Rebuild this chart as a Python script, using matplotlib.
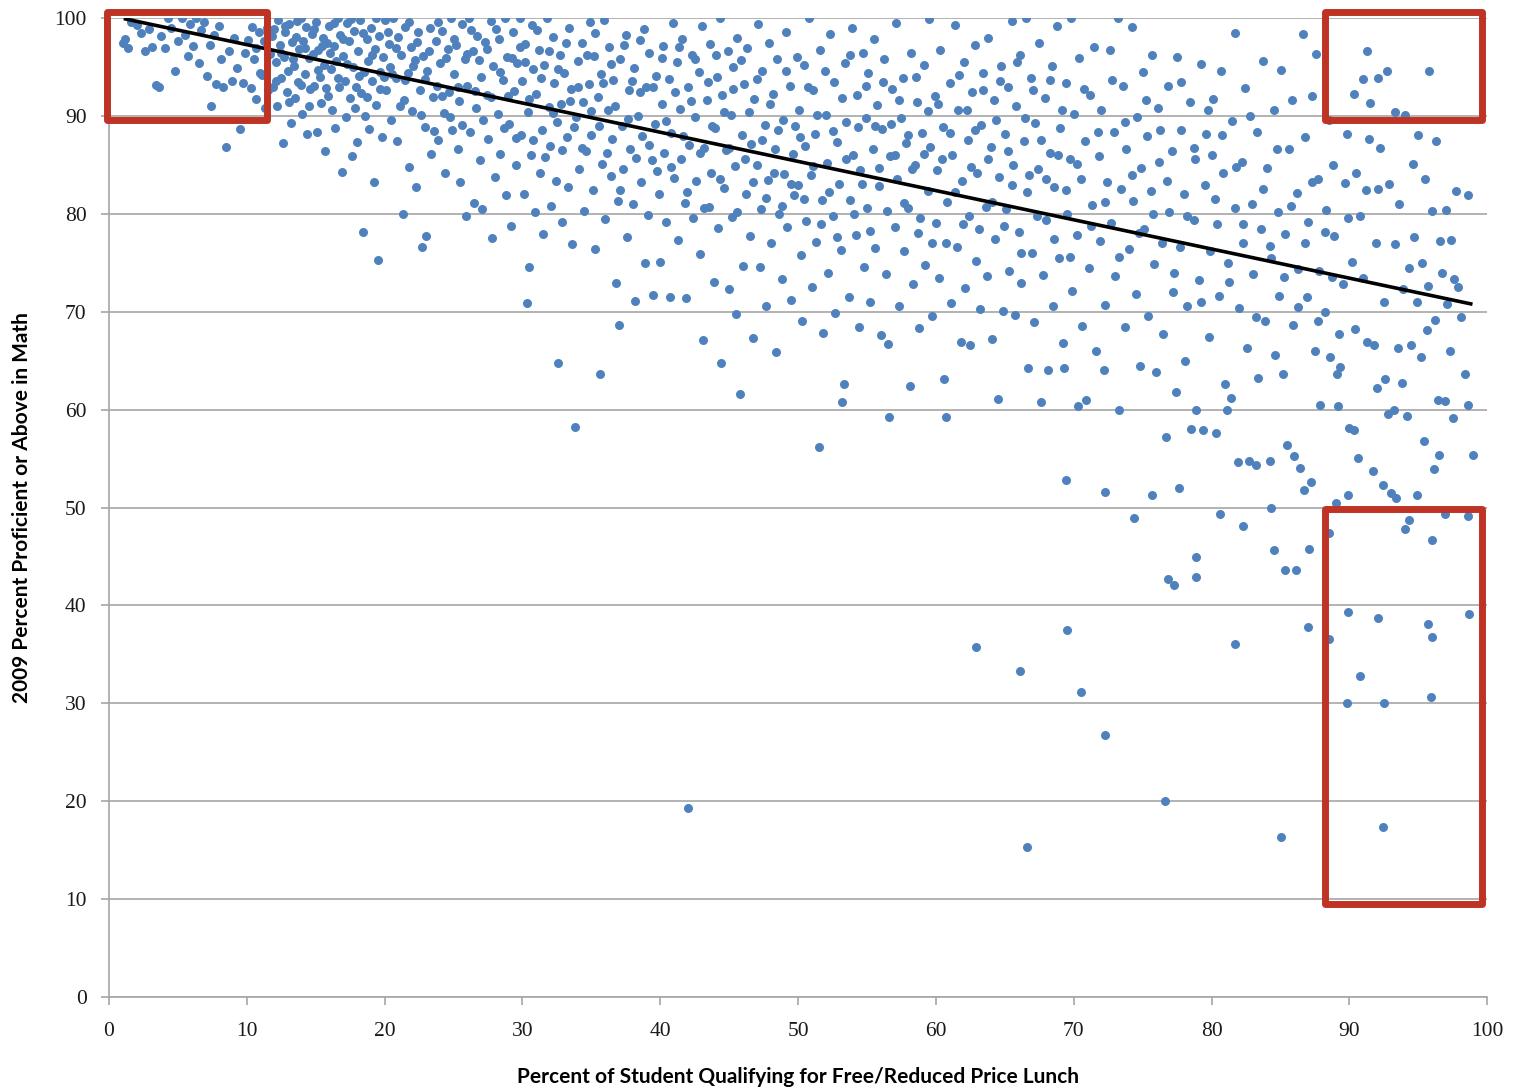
import numpy as np
import matplotlib
matplotlib.use("Agg")
import matplotlib.pyplot as plt
from matplotlib.patches import Rectangle

# ---------------- DATA ----------------
# (percent free/reduced lunch, percent proficient in math)
low_poverty = [
    (1.0, 97.4), (1.2, 97.9), (1.4, 96.9), (1.6, 99.6), (2.0, 99.3), (2.3, 98.5), (2.6, 96.6), (2.9, 98.9),
    (3.1, 97.0), (3.4, 93.2), (3.6, 92.9), (3.8, 98.2), (4.1, 96.9), (4.3, 100.0), (4.5, 99.0), (4.8, 94.6),
    (5.0, 97.7), (5.3, 100.0), (5.5, 98.3), (5.7, 96.1), (5.9, 99.4),
    (6.1, 97.1), (6.3, 100.0), (6.5, 95.4), (6.7, 98.8), (6.9, 99.6), (7.1, 94.1), (7.3, 97.2), (7.4, 91.0),
    (7.6, 98.3), (7.8, 93.3), (8.0, 99.2), (8.1, 95.8), (8.3, 93.0), (8.5, 86.8), (8.7, 96.6), (8.9, 93.6),
    (9.1, 98.0), (9.3, 94.9), (9.5, 88.7), (9.7, 93.4), (9.9, 96.4), (10.1, 97.8), (10.3, 92.8), (10.5, 95.8),
    (10.7, 91.7), (10.9, 98.6), (11.1, 94.2), (11.3, 90.8), (11.5, 99.0), (11.7, 96.3), (11.9, 93.0),
    (12.0, 98.9), (12.1, 95.5), (12.2, 91.0), (12.3, 99.8), (12.4, 97.2), (12.5, 93.9), (12.6, 87.2), (12.7, 96.0),
    (12.8, 98.6), (12.9, 92.4), (13.0, 94.6), (13.1, 99.4), (13.2, 89.3), (13.3, 97.5), (13.4, 95.1), (13.5, 91.8),
    (13.6, 98.1), (13.7, 93.5), (13.8, 96.8), (13.9, 100.0), (14.0, 90.2), (14.1, 97.7), (14.2, 94.3), (14.3, 99.1),
    (14.4, 88.2), (14.5, 95.9), (14.6, 92.7), (14.7, 98.4), (14.8, 96.3), (14.9, 93.1), (15.0, 99.6), (15.1, 88.4),
    (15.2, 96.7), (15.3, 94.0), (15.4, 91.3), (15.5, 98.0), (15.6, 95.2), (15.7, 86.4), (15.8, 97.4), (15.9, 92.0),
    (16.0, 99.2), (16.1, 94.8), (16.2, 90.6), (16.3, 97.1), (16.4, 88.8), (16.5, 95.6), (16.6, 100.0), (16.7, 92.9),
    (16.8, 98.3), (16.9, 84.3), (17.0, 96.1), (17.1, 93.6), (17.2, 89.9), (17.3, 99.5), (17.4, 97.6), (17.5, 91.8),
    (17.6, 85.9), (17.7, 95.0), (17.8, 98.7), (17.9, 93.0), (18.0, 87.3), (18.1, 96.6), (18.2, 99.8), (18.3, 92.3),
    (18.4, 78.1), (18.5, 94.5), (18.6, 90.0), (18.7, 97.9), (18.8, 95.6), (18.9, 88.7), (19.0, 99.0), (19.1, 93.6),
    (19.2, 83.2), (19.3, 96.8), (19.4, 91.1), (19.5, 75.3), (19.6, 98.2), (19.7, 94.5), (19.8, 87.8), (19.9, 96.0),
    (20.0, 99.8), (20.1, 92.6), (20.3, 97.3), (20.4, 95.0), (20.5, 89.6), (20.6, 100.0), (20.8, 93.9), (20.9, 87.4),
    (21.0, 98.1), (21.2, 96.2), (21.3, 80.0), (21.4, 91.6), (21.5, 99.1), (21.7, 94.4), (21.8, 84.8), (21.9, 97.0),
    (22.0, 90.5), (22.2, 95.7), (22.3, 82.7), (22.4, 98.6), (22.6, 92.6), (22.7, 76.6), (22.8, 96.1), (22.9, 88.9),
    (23.0, 77.7), (23.1, 94.6), (23.3, 99.0), (23.4, 86.1), (23.5, 91.9), (23.7, 97.6), (23.8, 93.1), (23.9, 87.5),
    (24.0, 95.4), (24.2, 98.7), (24.3, 90.3), (24.4, 84.2), (24.6, 96.8), (24.7, 92.4), (24.8, 100.0), (24.9, 88.6),
]

mid_poverty = [
    (25.0, 94.3), (25.2, 97.2), (25.3, 86.6), (25.4, 91.5), (25.5, 83.2), (25.6, 99.4), (25.8, 95.8), (25.9, 79.8),
    (26.0, 93.1), (26.1, 100.0), (26.2, 88.4), (26.4, 96.6), (26.5, 81.1), (26.6, 90.8), (26.7, 98.2), (26.9, 85.5),
    (27.0, 94.0), (27.1, 80.5), (27.3, 97.5), (27.4, 92.1), (27.5, 87.6), (27.7, 99.7), (27.8, 77.5), (27.9, 95.1),
    (28.0, 83.8), (28.2, 90.2), (28.3, 97.9), (28.4, 86.1), (28.6, 93.7), (28.7, 100.0), (28.8, 81.9), (28.9, 96.0),
    (29.0, 89.2), (29.2, 78.8), (29.3, 98.6), (29.4, 92.5), (29.5, 85.0), (29.6, 95.4), (29.8, 100.0), (29.9, 88.0),
    (30.0, 93.6), (30.1, 82.0), (30.2, 97.3), (30.3, 70.9), (30.4, 90.4), (30.5, 74.6), (30.6, 86.0), (30.7, 99.3),
    (30.8, 94.8), (30.9, 80.2), (31.0, 92.2), (31.2, 96.7), (31.3, 84.2), (31.4, 88.6), (31.5, 77.9), (31.6, 95.2),
    (31.8, 100.0), (31.9, 90.9), (32.0, 86.9), (32.1, 80.8), (32.2, 98.1), (32.3, 93.4), (32.4, 83.4), (32.5, 89.4),
    (32.6, 64.8), (32.7, 96.2), (32.8, 91.2), (32.9, 79.2), (33.0, 94.4), (33.2, 87.8), (33.3, 82.7), (33.4, 99.0),
    (33.5, 92.7), (33.6, 76.9), (33.8, 58.2), (33.9, 89.9), (34.0, 95.6), (34.1, 84.6), (34.3, 97.4), (34.4, 91.4),
    (34.5, 80.3), (34.6, 86.4), (34.8, 93.3), (34.9, 99.6),
    (35.0, 88.0), (35.1, 82.4), (35.2, 96.1), (35.3, 76.4), (35.5, 91.9), (35.6, 63.6), (35.7, 94.3), (35.8, 85.1),
    (35.9, 99.8), (36.0, 79.5), (36.2, 90.6), (36.3, 97.0), (36.4, 83.9), (36.5, 87.6), (36.6, 93.7), (36.8, 72.9),
    (36.9, 81.3), (37.0, 68.6), (37.1, 95.8), (37.2, 89.0), (37.3, 84.6), (37.5, 98.3), (37.6, 77.6), (37.7, 92.6),
    (37.8, 86.6), (38.0, 81.0), (38.1, 94.9), (38.2, 71.1), (38.4, 90.0), (38.5, 97.8), (38.6, 83.2), (38.7, 87.9),
    (38.9, 75.0), (39.0, 92.9), (39.1, 79.9), (39.2, 96.4), (39.4, 85.5), (39.5, 71.7), (39.6, 89.2), (39.7, 94.1),
    (39.9, 82.0),
    (40.0, 75.1), (40.1, 91.2), (40.2, 97.1), (40.3, 86.2), (40.4, 79.2), (40.6, 93.8), (40.7, 71.5), (40.8, 88.3),
    (40.9, 99.5), (41.0, 83.7), (41.2, 95.5), (41.3, 77.3), (41.4, 90.7), (41.5, 85.6), (41.6, 97.9), (41.8, 81.1),
    (41.9, 71.4), (42.0, 93.0), (42.1, 87.0), (42.3, 96.2), (42.4, 79.6), (42.5, 89.9), (42.6, 83.3), (42.8, 94.5),
    (42.9, 75.9), (43.0, 99.2), (43.1, 67.1), (43.2, 86.7), (43.4, 91.6), (43.5, 80.7), (43.6, 97.3), (43.7, 84.2),
    (43.9, 73.0), (44.0, 88.8), (44.1, 94.0), (44.2, 78.5), (44.3, 100.0), (44.4, 64.8), (44.5, 92.1), (44.6, 82.6),
    (44.8, 86.5), (44.9, 96.6),
    (45.0, 72.3), (45.1, 90.1), (45.2, 79.7), (45.3, 95.0), (45.4, 84.9), (45.5, 69.8), (45.6, 98.0), (45.8, 61.6),
    (45.9, 88.0), (46.0, 74.7), (46.1, 93.3), (46.2, 82.0), (46.3, 96.9), (46.5, 77.7), (46.6, 87.1), (46.7, 67.3),
    (46.8, 91.7), (47.0, 85.0), (47.1, 99.4), (47.2, 74.6), (47.3, 80.5), (47.4, 94.6), (47.6, 89.1), (47.7, 70.6),
    (47.8, 83.5), (47.9, 97.4), (48.0, 77.0), (48.2, 92.2), (48.3, 86.6), (48.4, 65.9), (48.5, 95.8), (48.6, 80.0),
    (48.8, 73.3), (48.9, 89.6), (49.0, 84.1), (49.1, 98.6), (49.2, 78.7), (49.4, 93.1), (49.5, 71.2), (49.6, 86.1),
    (49.7, 81.9), (49.9, 96.0),
]

high_poverty = [
    (50.0, 82.9), (50.1, 90.6), (50.2, 75.8), (50.3, 69.1), (50.4, 95.2), (50.5, 86.9), (50.6, 79.3), (50.8, 100.0),
    (50.9, 84.0), (51.0, 72.5), (51.1, 92.6), (51.2, 88.2), (51.3, 77.1), (51.5, 56.2), (51.6, 96.7), (51.7, 81.4),
    (51.8, 67.8), (52.0, 90.1), (52.1, 85.2), (52.2, 74.0), (52.3, 98.4), (52.5, 79.8), (52.6, 93.5), (52.7, 69.9),
    (52.8, 87.3), (53.0, 83.0), (53.1, 76.3), (53.2, 60.8), (53.3, 62.6), (53.4, 95.4), (53.5, 89.4), (53.7, 71.5),
    (53.8, 81.4), (53.9, 99.0), (54.0, 86.0), (54.2, 77.8), (54.3, 92.1), (54.4, 68.4), (54.5, 84.5), (54.7, 96.4),
    (54.8, 74.6), (54.9, 89.8),
    (55.0, 80.6), (55.1, 94.4), (55.2, 71.0), (55.4, 86.6), (55.5, 97.9), (55.6, 76.5), (55.7, 91.1), (55.9, 82.8),
    (56.0, 67.6), (56.1, 88.7), (56.2, 95.8), (56.4, 73.8), (56.5, 66.7), (56.6, 59.2), (56.7, 85.9), (56.8, 92.7),
    (57.0, 78.6), (57.1, 99.5), (57.2, 83.6), (57.3, 70.6), (57.5, 89.8), (57.6, 93.9), (57.7, 76.2), (57.8, 87.2),
    (58.0, 80.6), (58.1, 62.4), (58.2, 96.4), (58.3, 72.8), (58.5, 85.0), (58.6, 91.4), (58.7, 78.0), (58.8, 68.3),
    (59.0, 88.3), (59.1, 95.2), (59.2, 74.8), (59.4, 82.3), (59.5, 99.9), (59.6, 86.8), (59.7, 69.6), (59.9, 92.0),
    (60.0, 79.1), (60.1, 84.5), (60.2, 73.4), (60.3, 96.7), (60.5, 88.9), (60.6, 63.1), (60.7, 59.2), (60.8, 81.2),
    (61.0, 93.4), (61.1, 70.9), (61.2, 86.0), (61.4, 99.3), (61.5, 76.6), (61.6, 90.6), (61.8, 66.9), (61.9, 83.3),
    (62.0, 95.5), (62.1, 72.4), (62.3, 87.5), (62.4, 79.8), (62.5, 66.6), (62.6, 92.4), (62.8, 97.2), (62.9, 75.2),
    (63.0, 84.2), (63.2, 70.3), (63.3, 89.1), (63.4, 94.4), (63.6, 80.7), (63.7, 73.6), (63.8, 98.0), (64.0, 86.8),
    (64.1, 67.2), (64.2, 91.6), (64.3, 77.4), (64.5, 61.1), (64.6, 83.8), (64.7, 95.1), (64.9, 70.1),
    (65.0, 88.1), (65.1, 80.5), (65.2, 93.0), (65.3, 74.2), (65.5, 99.7), (65.6, 85.0), (65.7, 69.7), (65.8, 91.0),
    (66.0, 78.1), (66.1, 96.2), (66.2, 72.9), (66.4, 87.4), (66.5, 100.0), (66.6, 82.2), (66.7, 64.3), (66.9, 93.9),
    (67.0, 76.0), (67.1, 68.9), (67.2, 89.3), (67.4, 84.6), (67.5, 97.4), (67.6, 60.8), (67.8, 73.7), (67.9, 91.8),
    (68.0, 79.4), (68.1, 64.0), (68.3, 86.2), (68.4, 95.1), (68.5, 70.6), (68.6, 82.7), (68.8, 99.2), (68.9, 75.5),
    (69.0, 88.8), (69.2, 66.8), (69.3, 64.3), (69.4, 93.4), (69.5, 80.0), (69.7, 85.6), (69.8, 100.0), (69.9, 72.1),
    (70.0, 90.2), (70.2, 77.8), (70.3, 60.4), (70.4, 95.9), (70.5, 83.6), (70.6, 68.5), (70.8, 87.4), (70.9, 61.0),
    (71.1, 74.5), (71.2, 92.1), (71.3, 80.9), (71.5, 97.0), (71.6, 66.0), (71.8, 85.9), (71.9, 77.2), (72.0, 90.6),
    (72.2, 64.0), (72.3, 70.7), (72.4, 83.2), (72.6, 96.7), (72.7, 79.1), (72.9, 88.4), (73.0, 73.6), (73.2, 100.0),
    (73.3, 60.0), (73.4, 82.5), (73.6, 93.1), (73.7, 68.4), (73.8, 86.6), (74.0, 76.4), (74.2, 99.1), (74.3, 81.3),
    (74.5, 71.8), (74.6, 89.9), (74.8, 64.5), (74.9, 84.7),
]

very_high_poverty = [
    (75.0, 94.5), (75.1, 78.4), (75.3, 87.9), (75.4, 69.6), (75.6, 82.3), (75.7, 96.2), (75.8, 74.9), (76.0, 63.8),
    (76.1, 90.8), (76.2, 85.3), (76.4, 77.0), (76.5, 67.7), (76.7, 57.2), (76.8, 93.1), (76.9, 80.2), (77.1, 86.4),
    (77.2, 72.0), (77.4, 61.8), (77.5, 96.0), (77.7, 76.6), (77.8, 88.6), (78.0, 82.0), (78.1, 65.0), (78.2, 70.6),
    (78.4, 91.4), (78.5, 58.0), (78.7, 79.4), (78.8, 85.6), (78.9, 60.0), (79.1, 73.2), (79.2, 95.3), (79.4, 57.9),
    (79.5, 82.9), (79.6, 88.2), (79.8, 67.4), (79.9, 76.2),
    (80.0, 86.0), (80.1, 91.7), (80.3, 57.6), (80.4, 79.0), (80.5, 71.6), (80.7, 94.6), (80.8, 84.2), (81.0, 62.6),
    (81.1, 60.0), (81.2, 75.0), (81.4, 61.2), (81.5, 89.5), (81.7, 98.5), (81.7, 80.6), (81.9, 54.6), (82.0, 70.4),
    (82.2, 85.3), (82.3, 77.0), (82.4, 92.8), (82.6, 66.3), (82.7, 54.8), (82.9, 81.0), (83.0, 73.9), (83.2, 54.3),
    (83.3, 88.4), (83.4, 63.2), (83.6, 78.4), (83.7, 95.6), (83.9, 69.0), (84.0, 84.7), (84.2, 54.7), (84.3, 75.5),
    (84.5, 90.6), (84.6, 65.6), (84.8, 80.2), (84.9, 71.6),
    (85.0, 94.7), (85.2, 63.6), (85.3, 77.9), (85.5, 56.4), (85.6, 86.6), (85.8, 91.6), (85.9, 68.6), (86.0, 55.3),
    (86.2, 82.1), (86.3, 74.4), (86.4, 54.0), (86.6, 98.4), (86.7, 51.8), (86.8, 87.8), (86.9, 71.5), (87.0, 79.2),
    (87.2, 52.6), (87.3, 92.0), (87.5, 66.0), (87.6, 96.3), (87.7, 83.6), (87.8, 74.2), (87.9, 60.5), (88.2, 70.0),
    (88.3, 80.4), (88.5, 89.6), (88.6, 65.4), (88.8, 85.0), (88.9, 77.7), (89.1, 63.6), (89.2, 60.4), (89.3, 64.4),
    (89.5, 72.8), (89.7, 83.1), (89.8, 88.2), (89.9, 79.6),
    (90.0, 58.1), (90.2, 75.1), (90.3, 57.9), (90.3, 92.2), (90.4, 68.2), (90.5, 84.2), (90.6, 55.1), (90.8, 79.8),
    (91.0, 93.8), (91.0, 73.4), (91.2, 82.4), (91.3, 96.6), (91.3, 66.9), (91.4, 87.6), (91.5, 91.3), (91.7, 53.7),
    (91.8, 66.6), (91.9, 77.0), (92.0, 62.2), (92.1, 93.9), (92.1, 82.5), (92.2, 86.7), (92.4, 52.3), (92.5, 71.0),
    (92.6, 63.1), (92.7, 94.6), (92.8, 59.6), (92.9, 83.0), (93.0, 51.5), (93.2, 60.0), (93.3, 90.4), (93.3, 76.9),
    (93.5, 66.3), (93.6, 81.0), (93.8, 62.7), (93.9, 72.3), (94.0, 90.1), (94.2, 59.3), (94.3, 74.5), (94.5, 66.6),
    (94.6, 85.1), (94.7, 77.6), (94.9, 71.0),
    (95.0, 88.0), (95.2, 65.4), (95.3, 75.0), (95.4, 56.8), (95.5, 83.6), (95.6, 68.1), (95.7, 72.6), (95.8, 94.6),
    (96.0, 80.3), (96.1, 53.9), (96.2, 69.2), (96.3, 87.4), (96.4, 61.0), (96.5, 55.4), (96.6, 77.2), (96.7, 74.0),
    (96.9, 60.9), (97.0, 80.4), (97.1, 70.8), (97.3, 66.0), (97.4, 77.3), (97.5, 59.1), (97.6, 73.3), (97.7, 82.3),
    (97.9, 72.5), (98.1, 69.5), (98.4, 63.6), (98.6, 81.9), (98.6, 60.5), (99.0, 55.4),
]

# extra schools filling the crowded upper part of the cloud
dense_core = [
    (10.35, 99.1), (10.65, 96.9), (10.95, 94.4), (11.25, 97.6), (11.55, 92.6), (11.85, 98.2), (12.15, 93.6),
    (12.45, 96.4), (12.75, 99.2), (13.05, 91.4), (13.35, 95.8), (13.65, 99.7), (13.95, 93.2), (14.25, 96.9),
    (14.55, 91.0), (14.85, 98.9), (15.15, 94.7), (15.45, 97.1), (15.75, 92.8), (16.05, 96.4), (16.35, 99.5),
    (16.65, 93.9), (16.95, 97.9), (17.25, 95.3), (17.55, 99.9), (17.85, 90.8), (18.15, 94.1), (18.45, 98.5),
    (18.75, 91.9), (19.05, 96.2), (19.35, 100.0), (19.65, 92.7), (19.95, 94.0),
    (20.25, 98.6), (20.55, 94.3), (20.85, 96.9), (21.15, 91.0), (21.45, 93.7), (21.75, 99.6), (22.05, 95.1),
    (22.35, 97.5), (22.65, 90.1), (22.95, 93.8), (23.25, 96.6), (23.55, 88.5), (23.85, 99.6), (24.15, 92.0),
    (24.45, 95.9), (24.75, 89.9), (25.05, 97.9), (25.35, 93.0), (25.65, 89.1), (25.95, 96.3), (26.25, 98.8),
    (26.55, 92.5), (26.85, 95.7), (27.15, 89.6), (27.45, 96.8), (27.75, 91.9), (28.05, 98.9), (28.35, 94.5),
    (28.65, 88.8), (28.95, 92.0), (29.25, 95.9), (29.55, 87.7), (29.85, 97.0),
    (30.15, 95.5), (30.45, 91.7), (30.75, 87.5), (31.05, 98.8), (31.35, 93.9), (31.65, 85.8), (31.95, 96.6),
    (32.25, 90.3), (32.55, 94.8), (32.85, 86.5), (33.15, 97.4), (33.45, 91.5), (33.75, 88.9), (34.05, 93.0),
    (34.35, 86.7), (34.65, 96.2), (34.95, 90.5), (35.25, 98.5), (35.55, 89.0), (35.85, 93.4), (36.15, 86.2),
    (36.45, 95.3), (36.75, 91.0), (37.05, 82.4), (37.35, 97.2), (37.65, 89.7), (37.95, 93.6), (38.25, 85.7),
    (38.55, 92.4), (38.85, 98.9), (39.15, 87.0), (39.45, 93.0), (39.75, 84.4),
    (40.15, 95.9), (40.45, 89.5), (40.75, 84.8), (41.05, 92.4), (41.35, 97.0), (41.65, 87.9), (41.95, 82.2),
    (42.25, 91.5), (42.55, 95.8), (42.85, 86.2), (43.15, 80.6), (43.45, 93.5), (43.75, 89.0), (44.05, 96.2),
    (44.35, 83.6), (44.65, 90.4), (44.95, 86.7), (45.25, 92.7), (45.55, 80.2), (45.85, 95.7), (46.15, 85.6),
    (46.45, 90.4), (46.75, 83.2), (47.05, 93.8), (47.35, 87.5), (47.65, 81.6), (47.95, 91.2), (48.25, 84.2),
    (48.55, 88.6), (48.85, 80.8), (49.15, 94.6), (49.45, 83.0), (49.75, 89.0),
    (50.15, 87.8), (50.45, 81.5), (50.75, 92.9), (51.05, 84.9), (51.35, 90.1), (51.65, 79.0), (51.95, 94.6),
    (52.25, 82.2), (52.55, 88.5), (52.85, 77.6), (53.15, 91.8), (53.45, 85.6), (53.75, 96.2), (54.05, 80.0),
    (54.35, 88.9), (54.65, 83.0), (54.95, 93.1), (55.25, 78.2), (55.55, 89.0), (55.85, 84.7), (56.15, 93.5),
    (56.45, 80.3), (56.75, 89.2), (57.05, 86.0), (57.35, 91.6), (57.65, 81.1), (57.95, 88.0), (58.25, 84.6),
    (58.55, 94.0), (58.85, 79.6), (59.15, 86.1), (59.45, 90.5), (59.75, 77.0),
    (60.15, 91.2), (60.45, 85.6), (60.75, 77.0), (61.05, 88.3), (61.35, 82.2), (61.65, 94.2), (61.95, 79.0),
    (62.25, 90.6), (62.55, 84.8), (62.85, 88.6), (63.15, 78.4), (63.45, 92.6), (63.75, 85.6), (64.05, 81.2),
    (64.35, 89.6), (64.65, 93.6), (64.95, 78.8), (65.25, 86.4), (65.55, 82.9), (65.85, 95.5), (66.15, 76.0),
    (66.45, 89.8), (66.75, 84.0), (67.05, 92.6), (67.35, 79.8), (67.65, 87.5), (67.95, 83.6), (68.25, 93.7),
    (68.55, 77.4), (68.85, 86.0), (69.15, 90.6), (69.45, 82.4), (69.75, 75.6),
    (70.25, 85.1), (70.75, 92.7), (71.25, 78.8), (71.75, 88.4), (72.25, 81.2), (72.75, 93.7), (73.25, 75.6),
    (73.75, 89.4), (74.25, 84.0), (74.75, 78.0), (75.25, 91.6), (75.75, 80.0), (76.25, 88.6), (76.75, 83.3),
    (77.25, 74.0), (77.75, 93.5), (78.25, 79.8), (78.75, 86.7), (79.25, 71.0), (79.75, 90.6), (80.25, 81.5),
    (80.75, 88.0), (81.25, 73.0), (81.75, 84.8), (82.25, 79.0), (82.75, 90.0), (83.25, 69.5), (83.75, 82.5),
    (84.25, 76.7), (84.75, 86.6), (85.25, 73.5), (85.75, 80.8), (86.25, 70.5), (86.75, 77.0), (87.25, 83.2),
    (87.75, 69.0), (88.25, 78.1), (88.75, 73.5), (89.25, 67.7),
]

# sparse low-scoring schools
low_tail = [
    (42.0, 19.3), (62.9, 35.8), (66.1, 33.3), (66.6, 15.3), (69.4, 52.8), (69.5, 37.5), (70.5, 31.2), (72.3, 26.8),
    (72.3, 51.6), (74.4, 48.9), (75.7, 51.3), (76.6, 20.0), (76.8, 42.7), (77.3, 42.1), (77.6, 52.0), (78.9, 44.9),
    (78.9, 42.9), (80.6, 49.3), (81.7, 36.1), (82.3, 48.1), (84.3, 50.0), (84.5, 45.7), (85.0, 16.3), (85.3, 43.6),
    (86.1, 43.6), (87.0, 37.8), (87.1, 45.8), (88.5, 47.4), (88.5, 36.6), (89.0, 50.5), (89.8, 30.0), (89.9, 39.3),
    (89.9, 51.3), (90.8, 32.8), (92.1, 38.7), (92.4, 17.4), (92.5, 30.0), (93.4, 51.0), (94.0, 47.8), (94.3, 48.7),
    (94.9, 51.3), (95.7, 38.1), (95.9, 30.6), (96.0, 36.8), (96.0, 46.7), (96.9, 49.3), (98.6, 49.1), (98.7, 39.1),
]

# Excel linear trendline endpoints
trend_x = [1.2, 98.8]
trend_y = [99.9, 70.8]

# highlighted regions: (x_min, x_max, y_min, y_max)
highlight_boxes = [
    (-0.15, 11.5, 89.6, 100.6),
    (88.2, 99.6, 89.6, 100.6),
    (88.2, 99.6, 9.5, 49.85),
]

pts = np.array(low_poverty + mid_poverty + high_poverty + very_high_poverty + dense_core + low_tail)

# ---------------- PLOTTING ----------------
fig = plt.figure(figsize=(15.13, 10.90), dpi=100)
ax = fig.add_axes([0.072, 0.0853, 0.911, 0.8982])

ax.scatter(pts[:, 0], pts[:, 1], s=42, color='#4F81BD', linewidths=0, zorder=3)
ax.plot(trend_x, trend_y, color='black', linewidth=2.6, zorder=4)

for x0, x1, y0, y1 in highlight_boxes:
    ax.add_patch(Rectangle((x0, y0), x1 - x0, y1 - y0, fill=False, edgecolor='#BF3324',
                           linewidth=5, joinstyle='round', clip_on=False, zorder=5))

ax.set_xlim(0, 100)
ax.set_ylim(0, 100)
ax.set_xticks(range(0, 101, 10))
ax.set_yticks(range(0, 101, 10))
ax.yaxis.grid(True, color='#A6A6A6', linewidth=1.2)
ax.set_axisbelow(True)

for side in ['top', 'right']:
    ax.spines[side].set_visible(False)
for side in ['left', 'bottom']:
    ax.spines[side].set_color('#A6A6A6')
    ax.spines[side].set_linewidth(1.2)

ax.tick_params(axis='both', direction='out', length=6, color='#A6A6A6', width=1.2,
               labelsize=15.5, labelcolor='#1a1a1a')
for lab in ax.get_xticklabels() + ax.get_yticklabels():
    lab.set_family('Liberation Serif')
ax.tick_params(axis='x', pad=12)
ax.tick_params(axis='y', pad=10)

ax.set_xlabel("Percent of Student Qualifying for Free/Reduced Price Lunch",
              fontsize=15, fontweight='bold', family='Lato')
ax.set_ylabel("2009 Percent Proficient or Above in Math",
              fontsize=15, fontweight='bold', family='Lato')
ax.xaxis.set_label_coords(0.5, -0.0817)
ax.yaxis.set_label_coords(-0.063, 0.5)
ax.xaxis.label.set_va('center')
ax.yaxis.label.set_va('center')

fig.savefig("out.png", dpi=100)
